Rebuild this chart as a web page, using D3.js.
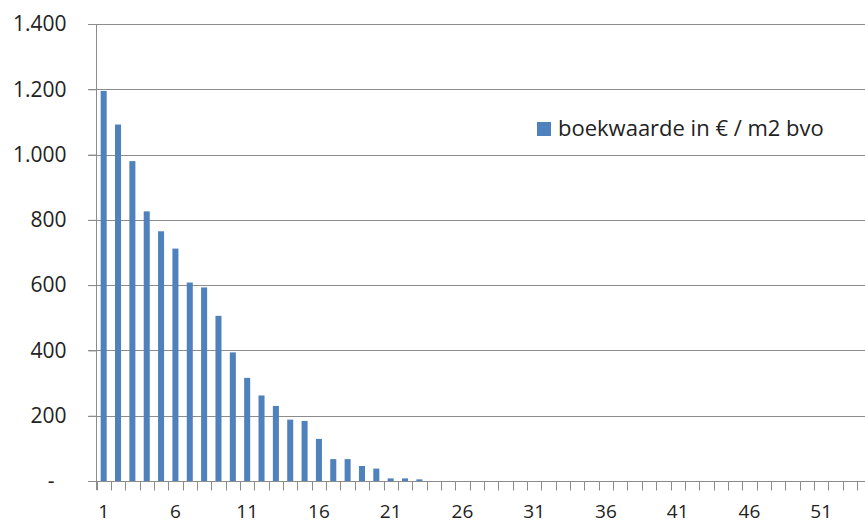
<!DOCTYPE html>
<html>
<head>
<meta charset="utf-8">
<script src="https://cdn.jsdelivr.net/npm/d3@7"></script>
<style>
  body { margin: 0; background: #fff; }
  text { font-family: "Open Sans", sans-serif; fill: #222; }
</style>
</head>
<body>
<div class="canvas"></div>
<script>
// categories 1..54 (chart continues past the right edge)
const years = d3.range(1, 55);
const values = [1195, 1092, 980, 826, 765, 712, 608, 593, 506, 394,
                316, 262, 230, 188, 184, 129, 67, 67, 46, 38,
                8, 8, 5];
const yTicks = [0, 200, 400, 600, 800, 1000, 1200, 1400];
const xLabels = [1, 6, 11, 16, 21, 26, 31, 36, 41, 46, 51];
const seriesName = 'boekwaarde in € / m2 bvo';

const width = 865, height = 523;
const data = years.map((y, i) => ({year: y, value: values[i] || 0}));

const svg = d3.select('.canvas')
    .append('svg')
    .attr('width', width)
    .attr('height', height);

// scales
const x = d3.scaleBand()
    .domain(years)
    .range([96.5, 96.5 + 54 * 14.35])
    .paddingInner(0.58)
    .paddingOuter(0.29);
const xCat = d3.scaleBand().domain(years).range(x.range());
const y = d3.scaleLinear().domain([0, 1400]).range([481, 24]);

// gridlines
svg.append('g')
    .selectAll('line')
    .data(yTicks.filter(d => d > 0))
    .join('line')
    .attr('x1', 88).attr('x2', width)
    .attr('y1', d => Math.round(y(d)) + 0.5)
    .attr('y2', d => Math.round(y(d)) + 0.5)
    .attr('stroke', '#8c8c8c');

// bars
svg.append('g')
    .selectAll('rect')
    .data(data)
    .join('rect')
    .attr('x', d => x(d.year))
    .attr('width', x.bandwidth())
    .attr('y', d => y(d.value))
    .attr('height', d => y(0) - y(d.value))
    .attr('fill', '#4f81bd');

// x axis
const xAxis = svg.append('g')
    .attr('transform', `translate(0, ${Math.round(y(0)) + 0.5})`);
xAxis.append('line')
    .attr('x1', 88).attr('x2', width)
    .attr('stroke', '#8c8c8c');
xAxis.selectAll('.tick')
    .data(years)
    .join('line')
    .attr('x1', d => Math.round(xCat(d)) + 0.5)
    .attr('x2', d => Math.round(xCat(d)) + 0.5)
    .attr('y1', 0).attr('y2', 9)
    .attr('stroke', '#8c8c8c');
xAxis.selectAll('text')
    .data(xLabels)
    .join('text')
    .attr('x', d => xCat(d) + xCat.bandwidth() / 2)
    .attr('y', 36)
    .attr('text-anchor', 'middle')
    .attr('font-size', 19)
    .text(d => d);

// y axis
const yAxis = d3.axisLeft(y)
    .tickValues(yTicks)
    .tickSize(8)
    .tickPadding(22)
    .tickFormat(d => d === 0 ? '-' : d3.format(',')(d).replace(/,/g, '.'));

svg.append('g')
    .attr('transform', 'translate(96.5, 0)')
    .call(yAxis)
    .call(g => g.select('.domain').attr('stroke', '#8c8c8c').attr('d', `M0,${y(1400)}V${y(0) + 9}`))
    .call(g => g.selectAll('.tick line').attr('stroke', '#8c8c8c'))
    .call(g => g.selectAll('.tick text')
        .attr('font-size', 21)
        .attr('font-family', '"Open Sans", sans-serif')
        .attr('fill', '#222')
        .attr('dx', d => d === 0 ? -12 : 0));

// legend
const legend = svg.append('g').attr('transform', 'translate(537, 122)');
legend.append('rect')
    .attr('width', 14).attr('height', 14)
    .attr('fill', '#4f81bd');
legend.append('text')
    .attr('x', 21).attr('y', 14)
    .attr('font-size', 22)
    .text(seriesName);
</script>
</body>
</html>
